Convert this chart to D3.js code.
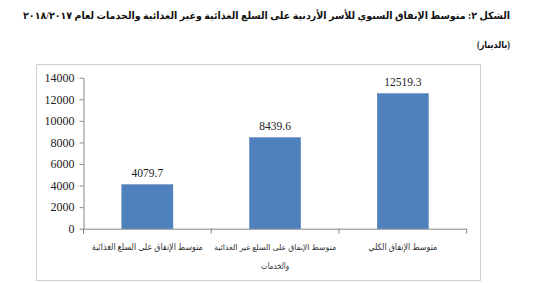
<!DOCTYPE html>
<meta charset="utf-8">
<script src="https://cdn.jsdelivr.net/npm/d3@7"></script>
<style type="text/css">
    body { margin: 0; background: #fff; }
    .title { font-family: "Liberation Serif", "DejaVu Sans", serif; font-weight: bold; fill: #111; }
    .sub { font-family: "Liberation Serif", "DejaVu Sans", serif; font-weight: bold; fill: #111; }
    .cat { font-family: "Liberation Serif", "DejaVu Sans", serif; fill: #333; }
    .val { font-family: "Liberation Serif", serif; font-size: 11.5px; fill: #222; }
</style>
<body>
<script type="text/javascript">
    // categories (each array = lines of the label), values, axis ticks
    var categories = [
        ["متوسط الإنفاق على السلع الغذائية"],
        ["متوسط الإنفاق على السلع غير الغذائية", "والخدمات"],
        ["متوسط الإنفاق الكلي"]
    ];
    var values = [4079.7, 8439.6, 12519.3];
    var yTicks = [0, 2000, 4000, 6000, 8000, 10000, 12000, 14000];

    var width = 550, height = 283;
    var plot = { left: 83.5, right: 466.7, top: 77.7, bottom: 228.7 };

    var svg = d3.select("body").append("svg")
        .attr("width", width)
        .attr("height", height);

    // shrink the font until the natural width fits `room`, then squeeze to `want`
    function fit(sel, base, room, want) {
        sel.style("font-size", base + "px");
        var w = sel.node().getComputedTextLength();
        if (w > room) {
            base = base * room / w;
            sel.style("font-size", base + "px");
            w = sel.node().getComputedTextLength();
        }
        if (w > want) {
            sel.attr("textLength", want).attr("lengthAdjust", "spacingAndGlyphs");
        }
    }

    var title = svg.append("text")
        .attr("class", "title")
        .attr("x", 510)
        .attr("y", 19)
        .attr("direction", "rtl")
        .style("text-anchor", "start")
        .text("الشكل ٢: متوسط الإنفاق السنوي للأسر الأردنية على السلع الغذائية وغير الغذائية والخدمات لعام ٢٠١٨/٢٠١٧");
    fit(title, 12.5, 505, 487);

    var sub = svg.append("text")
        .attr("class", "sub")
        .attr("x", 510)
        .attr("y", 48)
        .attr("direction", "rtl")
        .style("text-anchor", "start")
        .text("(بالدينار)");
    fit(sub, 9.5, 40, 33);

    // chart frame
    svg.append("rect")
        .attr("x", 36.5)
        .attr("y", 64.5)
        .attr("width", 444)
        .attr("height", 216)
        .attr("fill", "none")
        .attr("stroke", "#d0d0d0");

    var ids = d3.range(values.length);

    var xScale = d3.scaleBand()
        .domain(ids)
        .range([plot.left, plot.right])
        .paddingInner(0.6)
        .paddingOuter(0.3);

    var yScale = d3.scaleLinear()
        .domain([0, 14000])
        .range([plot.bottom, plot.top]);

    var yAxis = svg.append("g")
        .attr("transform", "translate(" + plot.left + ",0)")
        .call(d3.axisLeft(yScale).tickValues(yTicks).tickFormat(d3.format("d"))
            .tickSize(4).tickPadding(5).tickSizeOuter(0));
    yAxis.select(".domain").attr("stroke", "#868686");
    yAxis.selectAll(".tick line").attr("stroke", "#868686");
    yAxis.selectAll(".tick text")
        .attr("fill", "#222")
        .style("font-family", "'Liberation Serif', serif")
        .style("font-size", "12px");

    // category axis with ticks at band boundaries
    var step = (plot.right - plot.left) / values.length;
    var xAxis = svg.append("g");
    xAxis.append("line")
        .attr("x1", plot.left).attr("x2", plot.right)
        .attr("y1", plot.bottom + 0.5).attr("y2", plot.bottom + 0.5)
        .attr("stroke", "#868686");
    xAxis.selectAll(".xt")
        .data(d3.range(values.length + 1))
        .enter().append("line")
        .attr("x1", function (d) { return plot.left + d * step; })
        .attr("x2", function (d) { return plot.left + d * step; })
        .attr("y1", plot.bottom)
        .attr("y2", plot.bottom + 5)
        .attr("stroke", "#868686");

    svg.selectAll(".bar")
        .data(ids)
        .enter().append("rect")
        .attr("class", "bar")
        .attr("x", function (d) { return xScale(d); })
        .attr("y", function (d) { return yScale(values[d]); })
        .attr("width", xScale.bandwidth())
        .attr("height", function (d) { return plot.bottom - yScale(values[d]); })
        .attr("fill", "#4f81bd")
        .attr("stroke", "#4a7ab3")
        .attr("stroke-width", 0.5);

    svg.selectAll(".val")
        .data(ids)
        .enter().append("text")
        .attr("class", "val")
        .attr("x", function (d) { return xScale(d) + xScale.bandwidth() / 2; })
        .attr("y", function (d) { return yScale(values[d]) - 8; })
        .style("text-anchor", "middle")
        .text(function (d) { return values[d].toFixed(1); });

    // category labels, one text per line, squeezed to the reference widths
    var catWidths = [[111, 28], [122, 28], [69]];
    ids.forEach(function (d) {
        categories[d].forEach(function (line, j) {
            var t = svg.append("text")
                .attr("class", "cat")
                .attr("direction", "rtl")
                .attr("x", xScale(d) + xScale.bandwidth() / 2)
                .attr("y", 250 + j * 19)
                .style("text-anchor", "middle")
                .text(line);
            fit(t, 9, 126, catWidths[d][j]);
        });
    });
</script>
</body>
</html>
